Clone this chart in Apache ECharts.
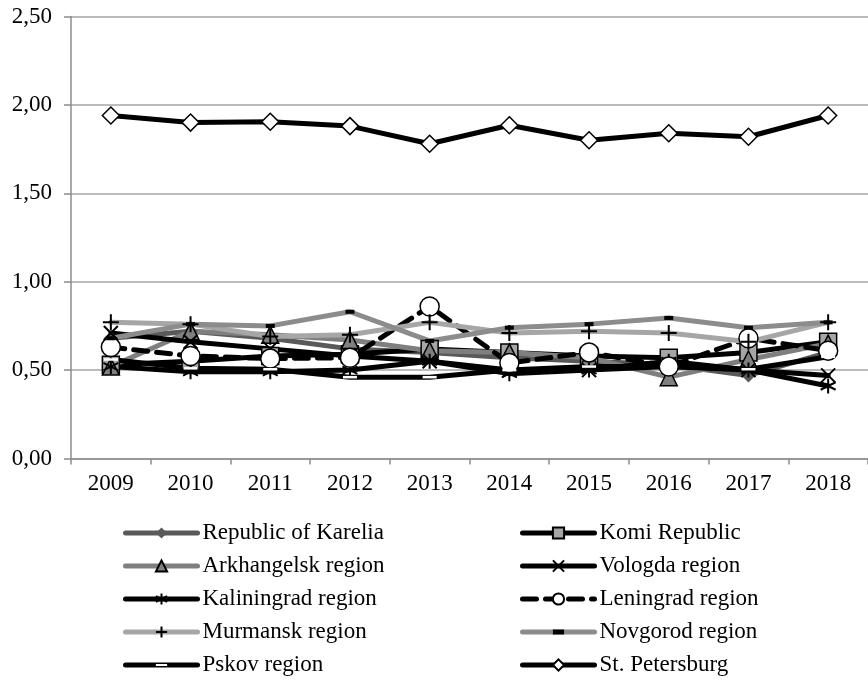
<!DOCTYPE html>
<html>
<head>
<meta charset="utf-8">
<script src="https://cdn.jsdelivr.net/npm/echarts@6/dist/echarts.min.js"></script>
<style>
  html,body{margin:0;padding:0;background:#fff;}
  #main{width:868px;height:682px;}
</style>
</head>
<body>
<div id="main"></div>
<script>
var years = ['2009','2010','2011','2012','2013','2014','2015','2016','2017','2018'];
var yTicks = [0, 0.5, 1, 1.5, 2, 2.5];

var karelia     = [0.68, 0.72, 0.68, 0.62, 0.60, 0.57, 0.55, 0.53, 0.47, 0.60];
var komi        = [0.53, 0.55, 0.58, 0.59, 0.62, 0.60, 0.58, 0.57, 0.60, 0.66];
var arkhangelsk = [0.52, 0.72, 0.70, 0.67, 0.61, 0.60, 0.57, 0.46, 0.56, 0.65];
var vologda     = [0.71, 0.66, 0.62, 0.58, 0.55, 0.50, 0.50, 0.52, 0.50, 0.47];
var kaliningrad = [0.52, 0.49, 0.49, 0.50, 0.55, 0.48, 0.50, 0.55, 0.50, 0.41];
var leningrad   = [0.63, 0.58, 0.565, 0.57, 0.86, 0.54, 0.60, 0.52, 0.68, 0.61];
var murmansk    = [0.77, 0.76, 0.69, 0.70, 0.77, 0.71, 0.72, 0.71, 0.66, 0.77];
var novgorod    = [0.68, 0.76, 0.75, 0.83, 0.665, 0.74, 0.76, 0.795, 0.74, 0.77];
var pskov       = [0.56, 0.51, 0.505, 0.46, 0.46, 0.50, 0.52, 0.52, 0.505, 0.575];
var stPete      = [1.94, 1.90, 1.905, 1.88, 1.78, 1.885, 1.80, 1.84, 1.82, 1.94];

var FONT = '"Liberation Serif", "Times New Roman", serif';
var X_PATH = 'path://M0,0L10,10M10,0L0,10';
var STAR_PATH = 'path://M5,0L5,10M0.7,2.5L9.3,7.5M9.3,2.5L0.7,7.5';
var PLUS_PATH = 'path://M0,5L10,5M5,0L5,10';
// flat bars padded to a square box so the legend does not stretch them
var DASH_PATH = 'path://M0,-2.5M9,6.5M0,0L9,0L9,4L0,4Z';
var BAR_PATH = 'path://M0,-5.75M14,8.25M0,0L14,0L14,2.5L0,2.5Z';

function line(name, data, color, symbol, size, item, extra) {
  var s = {
    name: name,
    type: 'line',
    data: data,
    symbol: symbol,
    symbolSize: size,
    showAllSymbol: true,
    lineStyle: { color: color, width: 5, cap: 'round', join: 'round' },
    itemStyle: item,
    emphasis: { disabled: true },
    animation: false
  };
  if (extra) s.lineStyle.type = extra;
  return s;
}

var series = [
  line('Republic of Karelia', karelia, '#595959', 'diamond', 14, { color: '#595959' }),
  line('Komi Republic', komi, '#000', 'rect', 17, { color: '#a6a6a6', borderColor: '#000', borderWidth: 1.5 }),
  line('Arkhangelsk region', arkhangelsk, '#7f7f7f', 'triangle', 17, { color: '#7f7f7f', borderColor: '#000', borderWidth: 1.5 }),
  line('Vologda region', vologda, '#000', X_PATH, 14, { color: 'transparent', borderColor: '#000', borderWidth: 2 }),
  line('Kaliningrad region', kaliningrad, '#000', STAR_PATH, 15, { color: 'transparent', borderColor: '#000', borderWidth: 2 }),
  line('Leningrad region', leningrad, '#000', 'circle', 19, { color: '#fff', borderColor: '#000', borderWidth: 1.5 }, [14, 9]),
  line('Murmansk region', murmansk, '#a6a6a6', PLUS_PATH, 16, { color: 'transparent', borderColor: '#000', borderWidth: 2 }),
  line('Novgorod region', novgorod, '#8c8c8c', DASH_PATH, 9, { color: '#000' }),
  line('Pskov region', pskov, '#000', BAR_PATH, 14, { color: '#fff' }),
  line('St. Petersburg', stPete, '#000', 'diamond', 17, { color: '#fff', borderColor: '#000', borderWidth: 1.5 })
];

var legendText = { fontFamily: FONT, fontSize: 23, color: '#000', lineHeight: 24 };
var leftNames = ['Republic of Karelia', 'Arkhangelsk region', 'Kaliningrad region', 'Murmansk region', 'Pskov region'];
var rightNames = ['Komi Republic', 'Vologda region', 'Leningrad region', 'Novgorod region', 'St. Petersburg'];

function legend(names, left) {
  return {
    data: names,
    orient: 'vertical',
    left: left,
    top: 521,
    itemWidth: 72,
    itemHeight: 14,
    itemGap: 9,
    itemTextGap: 5,
    padding: 0,
    selectedMode: false,
    lineStyle: { width: 5 },
    textStyle: legendText
  };
}

var myChart = echarts.init(document.getElementById('main'));
var option = {
  backgroundColor: '#fff',
  animation: false,
  grid: { left: 71, top: 16.5, width: 800, height: 442 },
  legend: [legend(leftNames, 123), legend(rightNames, 520)],
  xAxis: {
    type: 'category',
    data: years,
    boundaryGap: true,
    axisLine: { lineStyle: { color: '#8c8c8c', width: 1.5 } },
    axisTick: { show: true, interval: 0, length: 6, lineStyle: { color: '#8c8c8c', width: 1.5 } },
    axisLabel: { interval: 0, margin: 14, fontFamily: FONT, fontSize: 23, color: '#000' }
  },
  yAxis: {
    type: 'value',
    min: yTicks[0],
    max: yTicks[yTicks.length - 1],
    interval: 0.5,
    axisLine: { show: true, lineStyle: { color: '#8c8c8c', width: 1.5 } },
    axisTick: { show: true, length: 7, lineStyle: { color: '#8c8c8c', width: 1.5 } },
    splitLine: { lineStyle: { color: '#a6a6a6', width: 1.5 } },
    axisLabel: {
      margin: 19,
      fontFamily: FONT, fontSize: 23, color: '#000',
      formatter: function (v) { return v.toFixed(2).replace('.', ','); }
    }
  },
  series: series
};
myChart.setOption(option);
</script>
</body>
</html>
